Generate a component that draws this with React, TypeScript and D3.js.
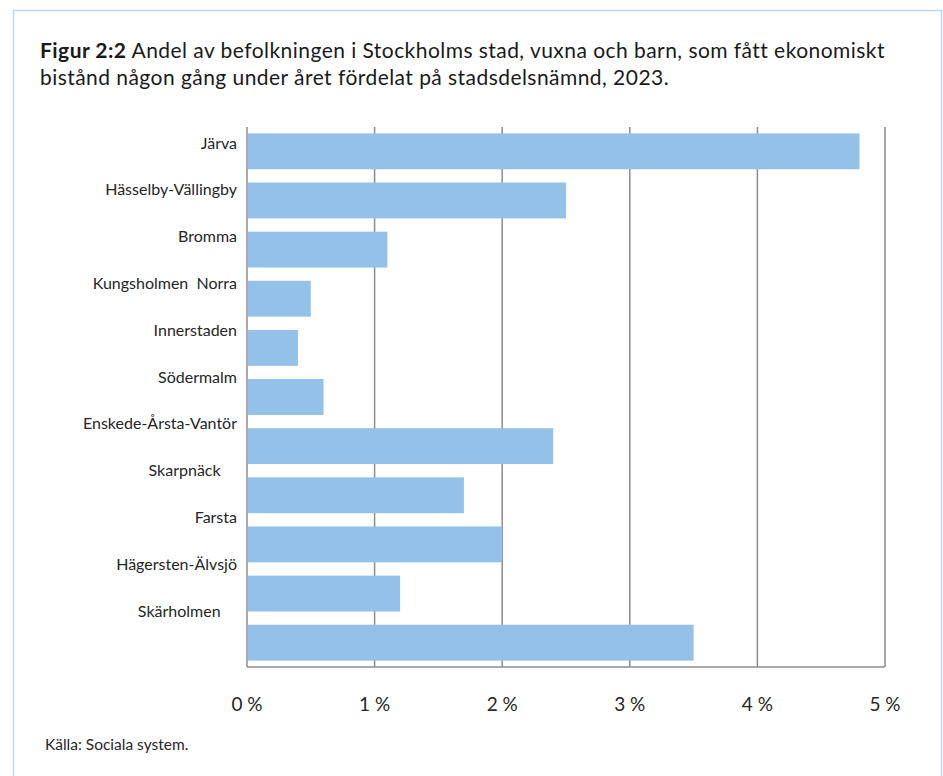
import * as d3 from 'd3';
import { useRef, useEffect } from "react"

// stadsdelsnämnder, top to bottom
const categories = [
    "Järva",
    "Hässelby-Vällingby",
    "Bromma",
    "Kungsholmen  Norra",
    "Innerstaden",
    "Södermalm",
    "Enskede-Årsta-Vantör",
    "Skarpnäck    ",
    "Farsta",
    "Hägersten-Älvsjö",
    "Skärholmen    ",
]
// andel i procent
const values = [4.8, 2.5, 1.1, 0.5, 0.4, 0.6, 2.4, 1.7, 2.0, 1.2, 3.5]
const ticks = [0, 1, 2, 3, 4, 5]

function App() {
    const ref = useRef<SVGSVGElement | null>(null)

    useEffect(() => {
        renderChart();
    }, [])

    function renderChart() {
        const W = 943, H = 776
        const margin = { top: 127, right: 58, bottom: 109, left: 247 }
        const width = W - margin.left - margin.right
        const height = H - margin.top - margin.bottom
        const font = "Lato, 'Open Sans', sans-serif"

        const root = d3.select(ref.current!)
        root.selectAll("*").remove()

        // frame
        root.append("rect")
            .attr("x", 13.5).attr("y", 10.5)
            .attr("width", 928).attr("height", 800)
            .attr("fill", "#fff")
            .attr("stroke", "#bcd7ef")
            .attr("stroke-width", 1.5)

        // title
        const title = root.append("text")
            .attr("font-family", font)
            .attr("font-size", 21)
            .attr("letter-spacing", 0.45)
            .attr("fill", "#1a1a1a")
        const l1 = title.append("tspan").attr("x", 40).attr("y", 58)
        l1.append("tspan").attr("font-weight", "bold").text("Figur 2:2")
        l1.append("tspan").text(" Andel av befolkningen i Stockholms stad, vuxna och barn, som fått ekonomiskt")
        title.append("tspan").attr("x", 40).attr("y", 85)
            .text("bistånd någon gång under året fördelat på stadsdelsnämnd, 2023.")

        const svg = root.append("g")
            .attr("transform", "translate(" + margin.left + "," + margin.top + ")")

        const x = d3.scaleLinear()
            .domain([0, 5])
            .range([0, width])

        const y = d3.scaleBand<string>()
            .domain(categories)
            .range([0, height])
            .paddingInner(0.27)
            .paddingOuter(0.13)

        // labels sit on their own, slightly tighter spacing
        const yLabel = d3.scalePoint<string>()
            .domain(categories)
            .range([16, height - 56])

        // gridlines
        svg.append("g")
            .selectAll("line")
            .data(ticks)
            .enter()
            .append("line")
            .attr("x1", d => x(d)).attr("x2", d => x(d))
            .attr("y1", 0).attr("y2", height)
            .attr("stroke", "#8c8c8c")
            .attr("stroke-width", 1.5)

        // bottom axis line
        svg.append("line")
            .attr("x1", 0).attr("x2", width)
            .attr("y1", height).attr("y2", height)
            .attr("stroke", "#8c8c8c")
            .attr("stroke-width", 1.5)

        // bars
        svg.append("g")
            .selectAll("rect")
            .data(values)
            .enter()
            .append("rect")
            .attr("x", 0.75)
            .attr("y", (_d, i) => y(categories[i])!)
            .attr("width", d => x(d) - 0.75)
            .attr("height", y.bandwidth())
            .attr("fill", "#93c1e7")

        // category labels
        svg.append("g")
            .selectAll("text")
            .data(categories)
            .enter()
            .append("text")
            .attr("x", -10)
            .attr("y", d => yLabel(d)!)
            .attr("dy", "0.35em")
            .attr("text-anchor", "end")
            .attr("font-family", font)
            .attr("font-size", 16)
            .attr("fill", "#262626")
            .style("white-space", "pre")
            .text(d => d)

        // tick labels
        svg.append("g")
            .selectAll("text")
            .data(ticks)
            .enter()
            .append("text")
            .attr("x", d => x(d))
            .attr("y", height + 44)
            .attr("text-anchor", "middle")
            .attr("font-family", font)
            .attr("font-size", 19)
            .attr("fill", "#262626")
            .text(d => d + " %")

        // source
        root.append("text")
            .attr("x", 45).attr("y", 750)
            .attr("font-family", font)
            .attr("font-size", 15.5)
            .attr("fill", "#262626")
            .text("Källa: Sociala system.")
    }

    return (
        <svg
            width={943}
            height={776}
            ref={ref}
            style={{ position: 'absolute', left: 0, top: 0 }}
        />
    )
}

export default App;
